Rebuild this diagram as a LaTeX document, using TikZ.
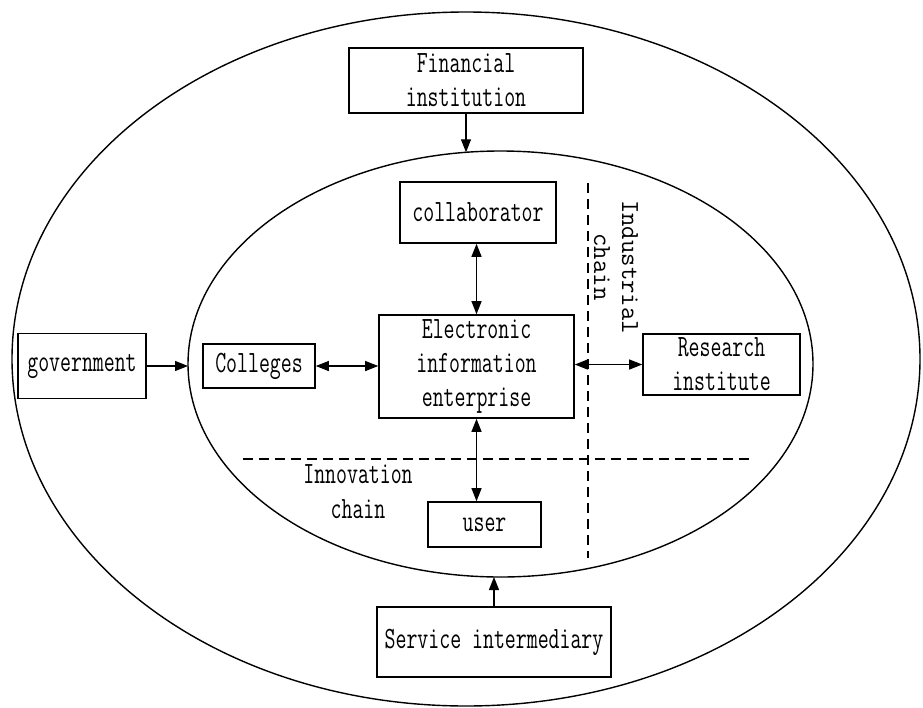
\documentclass[tikz,border=0pt]{standalone}
\usepackage{fontspec}
\setmainfont{Latin Modern Mono}[FakeStretch=0.685]
\newfontfamily\rotfont{Latin Modern Mono}
\usetikzlibrary{arrows.meta}
\tikzset{
  box/.style={draw, line width=1.6pt, align=center, inner sep=0pt,
    font=\fontsize{31}{34}\selectfont},
  lbl/.style={align=center, inner sep=0pt, font=\fontsize{31}{35}\selectfont},
  ring/.style={line width=1.4pt},
  conn/.style={line width=1.2pt, -{Triangle[length=13pt,width=10pt]}},
  dconn/.style={line width=1.2pt, {Triangle[length=13pt,width=10pt]}-{Triangle[length=13pt,width=10pt]}},
  chain/.style={line width=1.2pt, dash pattern=on 10pt off 6pt},
}
\begin{document}
\begin{tikzpicture}[x=1pt,y=-1pt]
\useasboundingbox (0,0) rectangle (923,707);
% ellipses
\draw[ring] (466,359) ellipse [x radius=454, y radius=347];
\draw[ring] (500.5,364) ellipse [x radius=312.5, y radius=213];
% boxes
\node[box, minimum width=234pt, minimum height=65pt] (fin) at (466,80.5) {Financial\\institution};
\node[box, minimum width=156pt, minimum height=61pt] (collab) at (478,212.5) {collaborator};
\node[box, minimum width=195pt, minimum height=103pt] (elec) at (476.5,366.5) {Electronic\\information\\enterprise};
\node[box, minimum width=128pt, minimum height=65pt] (gov) at (82,366) {government};
\node[box, minimum width=112pt, minimum height=44pt] (coll) at (259,366) {Colleges};
\node[box, minimum width=157pt, minimum height=61pt] (res) at (721.5,364.5) {Research\\institute};
\node[box, minimum width=113pt, minimum height=45pt] (user) at (484.5,524.5) {user};
\node[box, minimum width=234pt, minimum height=70pt] (serv) at (494,642) {Service intermediary};
% labels
\node[lbl] (innov) at (358,492) {Innovation\\chain};
\node[align=center, inner sep=0pt, rotate=-90, font=\rotfont\fontsize{26}{28}\selectfont] (indus) at (616,267) {Industrial\\chain};
% dashed chain lines
\coordinate (hl) at (243,459);
\coordinate (hr) at (750,459);
\coordinate (vt) at (588,183);
\coordinate (vb) at (588,558);
\draw[chain] (hl) -- (hr);
\draw[chain] (vt) -- (vb);
% ellipse contact points
\coordinate (intop) at (466,152.3);
\coordinate (inbot) at (494,577);
\coordinate (inleft) at (188,366);
% connectors
\draw[conn] (fin.south -| intop) -- (intop);
\draw[conn] (serv.north -| inbot) -- (inbot);
\draw[conn] (gov.east |- inleft) -- (inleft);
\draw[dconn] (coll.east) -- (coll.east -| elec.west);
\draw[dconn] (elec.east |- res.west) -- (res.west);
\draw[dconn] (collab.south -| elec.north) -- (elec.north);
\draw[dconn] (elec.south) -- (user.north -| elec.south);
\end{tikzpicture}
\end{document}
